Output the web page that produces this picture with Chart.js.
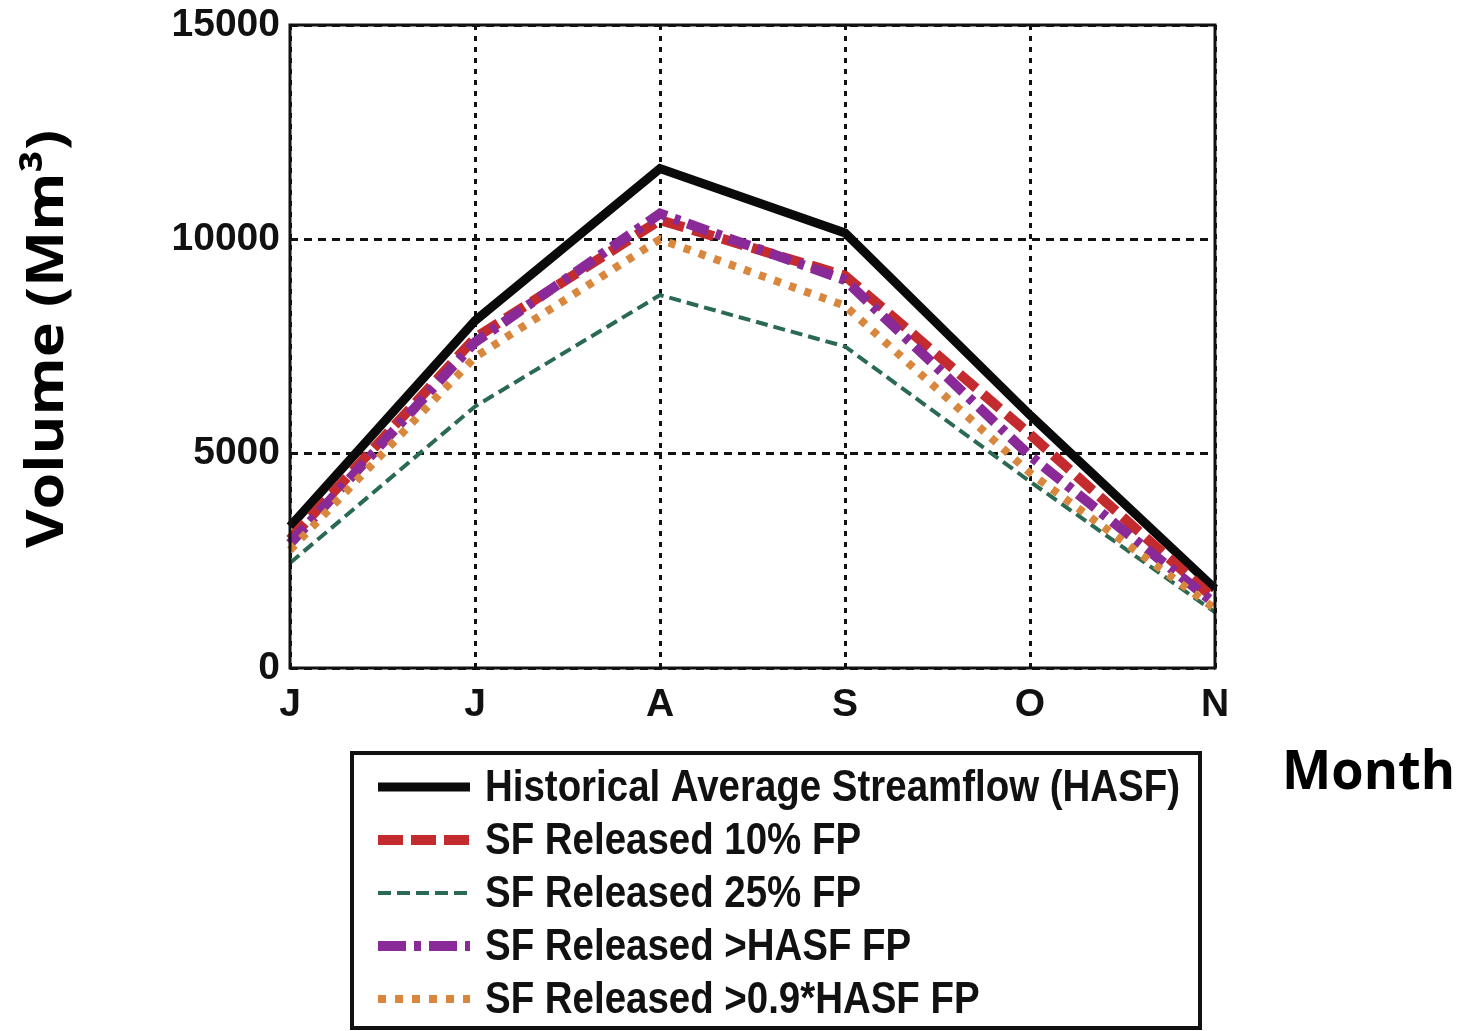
<!DOCTYPE html>
<html>
<head>
<meta charset="utf-8">
<script src="https://cdn.jsdelivr.net/npm/chart.js@4.4.1/dist/chart.umd.min.js"></script>
<style>
  html, body { margin: 0; padding: 0; background: #fff; }
  #wrap { width: 1464px; height: 1031px; }
</style>
</head>
<body>
<div id="wrap"><canvas id="flowChart" width="1464" height="1031"></canvas></div>
<script>
// months on the x axis (Jun..Nov)
const months = ["J", "J", "A", "S", "O", "N"];

// series values, Mm3
const hasf = [3300, 8100, 11650, 10150, 5900, 1850];
const released10 = [3000, 7700, 10450, 9150, 5450, 1600];
const released25 = [2450, 6100, 8700, 7500, 4350, 1300];
const releasedHasf = [2900, 7600, 10600, 9050, 4950, 1500];
const released09Hasf = [2750, 7250, 10000, 8450, 4550, 1380];

const seriesLabels = [
    "Historical Average Streamflow (HASF)",
    "SF Released 10% FP",
    "SF Released 25% FP",
    "SF Released >HASF FP",
    "SF Released >0.9*HASF FP"
];

const yTicks = [0, 5000, 10000, 15000];

const boldSans = "'Liberation Sans', Arial, sans-serif";

// dash patterns used for the legend samples
const legendDash = [[], [25, 8], [13, 6], [28, 8, 7, 8], [8, 9]];

// draws text squeezed horizontally to a given width
function drawFit(ctx, text, x, y, width) {
    const w = ctx.measureText(text).width;
    ctx.save();
    ctx.translate(x, y);
    ctx.scale(width / w, 1);
    ctx.fillText(text, 0, 0);
    ctx.restore();
}

// frame, legend box and axis titles
const extrasPlugin = {
    id: 'extras',
    afterDraw(chart) {
        const ctx = chart.ctx;
        const area = chart.chartArea;

        // axes frame
        ctx.save();
        ctx.strokeStyle = '#111';
        ctx.lineWidth = 3;
        ctx.strokeRect(area.left, area.top, area.right - area.left, area.bottom - area.top);

        // y title
        ctx.fillStyle = '#000';
        ctx.font = "bold 52px 'Open Sans', sans-serif";
        ctx.textBaseline = 'middle';
        ctx.save();
        ctx.translate(48, 548);
        ctx.rotate(-Math.PI / 2);
        drawFit(ctx, "Volume (Mm³)", 0, 0, 418);
        ctx.restore();

        // x title
        ctx.font = "bold 54px 'Open Sans', sans-serif";
        drawFit(ctx, "Month", 1282, 774, 173);

        // legend box
        ctx.lineWidth = 4;
        ctx.strokeRect(352, 753, 848, 275);
        ctx.font = "bold 44px " + boldSans;
        const sx = 695 / ctx.measureText(seriesLabels[0]).width;
        chart.data.datasets.forEach(function(ds, i) {
            const y = 787 + i * 53;
            ctx.beginPath();
            ctx.strokeStyle = ds.borderColor;
            ctx.lineWidth = ds.borderWidth;
            ctx.setLineDash(legendDash[i]);
            ctx.lineCap = 'butt';
            ctx.moveTo(378, y);
            ctx.lineTo(470, y);
            ctx.stroke();
            ctx.setLineDash([]);
            ctx.fillStyle = '#111';
            const w = ctx.measureText(ds.label).width * sx;
            drawFit(ctx, ds.label, 485, y + 2, w);
        });
        ctx.restore();
    }
};

function createChart() {
    const ctx = document.getElementById('flowChart').getContext('2d');

    new Chart(ctx, {
        type: 'line',
        data: {
            labels: months,
            datasets: [
                { label: seriesLabels[0], data: hasf, borderColor: '#0a0a0a', borderWidth: 9, order: 5 },
                { label: seriesLabels[1], data: released10, borderColor: '#c42b2e', borderWidth: 10, borderDash: [22, 9], order: 4 },
                { label: seriesLabels[2], data: released25, borderColor: '#2b6a52', borderWidth: 4, borderDash: [12, 6], order: 3 },
                { label: seriesLabels[3], data: releasedHasf, borderColor: '#8a2a98', borderWidth: 10, borderDash: [22, 8, 6, 8], order: 2 },
                { label: seriesLabels[4], data: released09Hasf, borderColor: '#d8873c', borderWidth: 8, borderDash: [7, 9], order: 1 }
            ]
        },
        options: {
            responsive: false,
            animation: false,
            devicePixelRatio: 1,
            layout: { padding: { left: 0, top: 25, right: 249, bottom: 0 } },
            elements: {
                line: { tension: 0, fill: false, borderCapStyle: 'butt' },
                point: { radius: 0 }
            },
            plugins: {
                legend: { display: false },
                tooltip: { enabled: false }
            },
            scales: {
                x: {
                    grid: { color: '#111', lineWidth: 3, drawTicks: false },
                    border: { display: false, dash: [5, 6] },
                    ticks: {
                        color: '#111',
                        padding: 14,
                        maxRotation: 0,
                        font: { family: boldSans, size: 39, weight: 'bold' }
                    },
                    afterFit: function(scale) {
                        scale.height = 1031 - 668;
                        scale.paddingLeft = 0;
                        scale.paddingRight = 0;
                    }
                },
                y: {
                    min: 0,
                    max: 15000,
                    afterBuildTicks: function(scale) {
                        scale.ticks = yTicks.map(function(v) { return { value: v }; });
                    },
                    grid: { color: '#111', lineWidth: 3, drawTicks: false },
                    border: { display: false, dash: [8, 6] },
                    ticks: {
                        color: '#111',
                        padding: 10,
                        font: { family: boldSans, size: 39, weight: 'bold' },
                        callback: function(v) { return String(v); }
                    },
                    afterFit: function(scale) {
                        scale.width = 290;
                        scale.paddingTop = 0;
                        scale.paddingBottom = 0;
                    }
                }
            }
        },
        plugins: [extrasPlugin]
    });
}

window.onload = createChart;
</script>
</body>
</html>
